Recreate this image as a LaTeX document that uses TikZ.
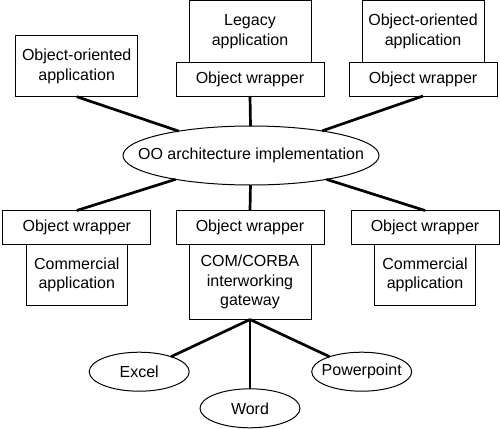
\documentclass[tikz,border=0pt]{standalone}
\usepackage{fontspec}
\setmainfont{Liberation Sans}
\usetikzlibrary{shapes.geometric,positioning}

\begin{document}
\begin{tikzpicture}[x=1pt,y=-1pt,
    box/.style={draw, line width=1pt, inner sep=0pt, outer sep=0pt, align=center,
                font=\fontsize{16}{19.5}\selectfont},
    wrapbox/.style={box, minimum width=148pt, minimum height=34pt},
    appbox/.style={box, minimum width=122pt, minimum height=61pt},
    comapp/.style={box, minimum width=101.5pt, minimum height=61pt},
    oval/.style={draw, ellipse, line width=1pt, inner xsep=-6pt, inner ysep=0pt, outer sep=0pt,
                 minimum width=100pt, minimum height=39pt,
                 font=\fontsize{16}{19.5}\selectfont},
    link/.style={line width=2.7pt}]
  \useasboundingbox (0,0) rectangle (500,428);

  \node[appbox] (ooapp1) at (76.7,66.2) {Object-oriented\\application};
  \node[wrapbox] (wrap1) at (250,79) {Object wrapper};
  \node[appbox, above=0pt of wrap1] (legacy) {Legacy\\application};
  \node[wrapbox] (wrap2) at (423,79) {Object wrapper};
  \node[appbox, above=0pt of wrap2] (ooapp2) {Object-oriented\\application};

  \node[oval, inner xsep=-24pt, minimum width=256pt, minimum height=59pt] (ooarch) at (251,155.5)
    {OO architecture implementation};

  \node[wrapbox] (wrap3) at (76.8,227.5) {Object wrapper};
  \node[comapp, below=0pt of wrap3] (comm1) {Commercial\\application};
  \node[wrapbox] (wrap4) at (250,227.5) {Object wrapper};
  \node[appbox, minimum height=75pt, below=0pt of wrap4] (gateway)
    {COM/CORBA\\interworking\\gateway};
  \node[wrapbox] (wrap5) at (425,227.5) {Object wrapper};
  \node[comapp, below=0pt of wrap5] (comm2) {Commercial\\application};

  \node[oval] (excel) at (139.2,371.7) {Excel};
  \node[oval] (word) at (250,408.3) {Word};
  \node[oval] (ppt) at (361.7,371.7) {Powerpoint};

  \draw[link] (ooapp1.south) -- (ooarch);
  \draw[link] (wrap1.south) -- (ooarch);
  \draw[link] (wrap2.south) -- (ooarch);
  \draw[link] (ooarch) -- (wrap3.north);
  \draw[link] (ooarch) -- (wrap4.north);
  \draw[link] (ooarch) -- (wrap5.north);
  \draw[link] (gateway.south) -- (excel);
  \draw[link] (gateway.south) -- (word);
  \draw[link] (gateway.south) -- (ppt);
\end{tikzpicture}
\end{document}
